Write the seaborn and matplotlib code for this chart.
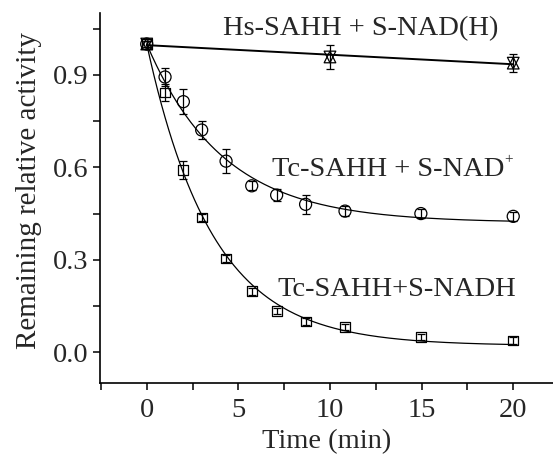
import numpy as np
import pandas as pd
import seaborn as sns
import matplotlib
matplotlib.use("Agg")
import matplotlib.pyplot as plt
from matplotlib.ticker import MultipleLocator

# Tc-SAHH + S-NADH (squares)
t_nadh = [0, 1.0, 2.0, 3.0, 4.33, 5.73, 7.09, 8.67, 10.82, 14.96, 20.0]
y_nadh = [1.0, 0.843, 0.591, 0.437, 0.304, 0.198, 0.133, 0.100, 0.081, 0.049, 0.038]
e_nadh = [0.01, 0.027, 0.03, 0.012, 0.012, 0.012, 0.01, 0.01, 0.01, 0.01, 0.01]

# Tc-SAHH + S-NAD+ (circles)
t_nad = [0, 1.0, 2.0, 3.0, 4.33, 5.73, 7.09, 8.67, 10.82, 14.96, 20.0]
y_nad = [1.0, 0.893, 0.813, 0.721, 0.620, 0.540, 0.510, 0.480, 0.458, 0.450, 0.441]
e_nad = [0.01, 0.03, 0.04, 0.03, 0.04, 0.015, 0.02, 0.03, 0.015, 0.015, 0.015]

# Hs-SAHH + S-NAD(H) (triangles)
t_hs = [0, 10.0, 20.0]
y_hs = [1.0, 0.958, 0.938]
e_hs = [0.01, 0.04, 0.03]


def exp_fit(t, y):
    # y = a + (1-a)*exp(-k t): grid search on k, least squares on a
    t = np.asarray(t)
    y = np.asarray(y)
    best = None
    for k in np.linspace(0.01, 1.5, 1500):
        e = np.exp(-k * t)
        u = 1 - e
        a = np.sum(u * (y - e)) / np.sum(u * u)
        err = np.sum((a * u + e - y) ** 2)
        if best is None or err < best[0]:
            best = (err, a, k)
    _, a, k = best
    tt = np.linspace(0, 20, 300)
    return tt, a + (1 - a) * np.exp(-k * tt)


sns.set_style("ticks")
plt.rcParams["font.family"] = ["Liberation Serif", "DejaVu Serif"]

fig = plt.figure(figsize=(5.53, 4.55), dpi=100)
ax = fig.add_axes([0.1808, 0.158, 0.8192, 0.813])

tt, ff = exp_fit(t_nadh, y_nadh)
sns.lineplot(x=tt, y=ff, ax=ax, color="black", lw=0.9)
tt, ff = exp_fit(t_nad, y_nad)
sns.lineplot(x=tt, y=ff, ax=ax, color="black", lw=0.9)
p = np.polyfit(t_hs, y_hs, 1)
th = np.array([0, 20])
sns.lineplot(x=th, y=np.polyval(p, th), ax=ax, color="black", lw=1.4)

ekw = dict(fmt="none", ecolor="black", elinewidth=0.9, capsize=3, capthick=0.9, zorder=3)
ax.errorbar(t_nadh, y_nadh, yerr=e_nadh, **ekw)
ax.errorbar(t_nad, y_nad, yerr=e_nad, **ekw)
ax.errorbar(t_hs, y_hs, yerr=e_hs, **ekw)

mkw = dict(facecolor="none", edgecolor="black", linewidth=0.9, zorder=4, legend=False)
sns.scatterplot(x=t_nadh, y=y_nadh, marker="s", s=50, ax=ax, **mkw)
sns.scatterplot(x=t_nad, y=y_nad, marker="o", s=75, ax=ax, **mkw)
sns.scatterplot(x=t_hs, y=y_hs, marker="^", s=70, ax=ax, **mkw)
sns.scatterplot(x=t_hs, y=y_hs, marker="v", s=70, ax=ax, **mkw)

fs = 20.5
ax.text(4.18, 1.03, "Hs-SAHH + S-NAD(H)", fontsize=fs, va="baseline", ha="left")
lab = ax.text(6.82, 0.571, "Tc-SAHH + S-NAD", fontsize=fs, va="baseline", ha="left")
ax.annotate("+", xy=(1, 0), xycoords=lab, xytext=(0.5, 13.5), textcoords="offset points",
            fontsize=11, ha="left", va="baseline")
ax.text(7.16, 0.184, "Tc-SAHH+S-NADH", fontsize=fs, va="baseline", ha="left")

ax.set_xlim(-2.55, 22.17)
ax.set_ylim(-0.1, 1.1)
ax.xaxis.set_major_locator(MultipleLocator(5))
ax.xaxis.set_minor_locator(MultipleLocator(2.5))
ax.yaxis.set_major_locator(MultipleLocator(0.3))
ax.yaxis.set_minor_locator(MultipleLocator(0.15))
ax.tick_params(which="both", direction="out", length=5, width=1.1, labelsize=fs, color="black")
ax.tick_params(axis="y", pad=3)
ax.tick_params(axis="x", pad=6)
for s in ["left", "bottom"]:
    ax.spines[s].set_linewidth(1.2)
    ax.spines[s].set_color("black")
sns.despine(ax=ax)

ax.set_xlabel("Time (min)", fontsize=fs, labelpad=4)
ax.set_ylabel("Remaining relative activity", fontsize=21)
ax.yaxis.set_label_coords(-0.128, 0.52)

fig.savefig("out.png", dpi=100)
